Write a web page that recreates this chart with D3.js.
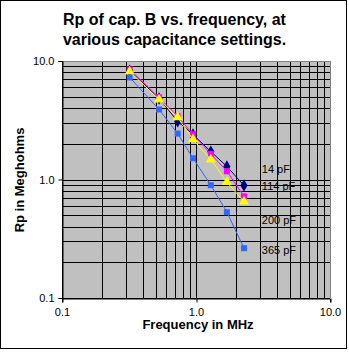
<!DOCTYPE html>
<html><head><meta charset="utf-8">
<script src="https://cdn.jsdelivr.net/npm/d3@7"></script>
<style>html,body{margin:0;padding:0;background:#fff;}svg{display:block;}</style>
</head><body>
<svg id="c" width="349" height="352"></svg>
<script>
const freqs = [0.32, 0.53, 0.73, 0.95, 1.29, 1.70, 2.28];
const rp14  = [8.3, 4.83, 3.09, 2.40, 1.72, 1.29, 0.89];
const rp114 = [8.48, 4.92, 3.42, 2.41, 1.64, 1.175, 0.72];
const rp200 = [8.15, 4.73, 3.34, 2.18, 1.475, 0.95, 0.65];
const rp365 = [7.26, 3.90, 2.44, 1.51, 0.895, 0.53, 0.263];
const seriesNames = ["14 pF", "114 pF", "200 pF", "365 pF"];
const xTickLabels = ["0.1", "1.0", "10.0"];
const yTickLabels = ["0.1", "1.0", "10.0"];
const tickValues = [0.1, 1, 10];
// label anchor positions in data units (frequency, Rp)
const labelFreq = 3.1;
const labelRp = [1.19, 0.856, 0.442, 0.247];

const svg = d3.select("#c");
const L = 62, R = 330, T = 61, B = 298;
const x = d3.scaleLog().domain([0.1, 10]).range([L, R]);
const y = d3.scaleLog().domain([0.1, 10]).range([B, T]);
const font = "'Liberation Sans', Arial, sans-serif";

// outer border
svg.append("rect").attr("x", 0.5).attr("y", 0.5).attr("width", 346).attr("height", 348)
  .attr("fill", "#fff").attr("stroke", "#000");

// plot area
svg.append("rect").attr("x", L).attr("y", T).attr("width", R - L).attr("height", B - T)
  .attr("fill", "#C0C0C0");

// grid values
const gridVals = [];
[0.1, 1].forEach(d => { for (let k = 1; k <= 9; k++) gridVals.push(d * k); });
gridVals.push(10);
const px = v => Math.round(v) + 0.5;

const g = svg.append("g");
gridVals.forEach(v => {
  g.append("line").attr("x1", px(x(v))).attr("x2", px(x(v))).attr("y1", T).attr("y2", B)
    .attr("stroke", "#000").attr("stroke-width", 1);
  g.append("line").attr("y1", px(y(v))).attr("y2", px(y(v))).attr("x1", L).attr("x2", R)
    .attr("stroke", "#000").attr("stroke-width", 1);
});
// plot border top/right gray
svg.append("line").attr("x1", L).attr("x2", R + 0.5).attr("y1", T + 0.5).attr("y2", T + 0.5).attr("stroke", "#808080");
svg.append("line").attr("x1", R + 0.5).attr("x2", R + 0.5).attr("y1", T).attr("y2", B).attr("stroke", "#808080");

// axes
const xAxis = d3.axisBottom(x).tickValues(tickValues).tickSize(4).tickPadding(6)
  .tickFormat((d, i) => xTickLabels[i]);
const yAxis = d3.axisLeft(y).tickValues(tickValues).tickSize(4).tickPadding(4)
  .tickFormat((d, i) => yTickLabels[i]);
const gx = svg.append("g").attr("transform", `translate(0,${px(B)})`).call(xAxis);
const gy = svg.append("g").attr("transform", `translate(${px(L)},0)`).call(yAxis);
[gx, gy].forEach(a => {
  a.selectAll("path").attr("stroke", "#000");
  a.selectAll("line").attr("stroke", "#000");
  a.selectAll("text").attr("font-family", font).attr("font-size", 11).attr("fill", "#000");
});
gx.selectAll(".tick line").attr("transform", "translate(0.5,0)");

// series
const series = [
  {vals: rp14, color: "#000080", marker: "diamond"},
  {vals: rp114, color: "#FF00FF", marker: "square"},
  {vals: rp200, color: "#FFFF00", marker: "triangle"},
  {vals: rp365, color: "#3366FF", marker: "square"}
];
const line = d3.line().x(d => x(d[0])).y(d => y(d[1]));
series.forEach(s => {
  const pts = freqs.map((f, i) => [f, s.vals[i]]);
  svg.append("path").attr("d", line(pts)).attr("fill", "none")
    .attr("stroke", s.color).attr("stroke-width", 1);
  const sym = s.marker === "diamond" ? d3.symbolDiamond :
              s.marker === "triangle" ? d3.symbolTriangle : d3.symbolSquare;
  const size = s.marker === "diamond" ? 44 : s.marker === "triangle" ? 44 : 36;
  svg.append("g").selectAll("path").data(pts).join("path")
    .attr("transform", d => `translate(${x(d[0])},${y(d[1])})`)
    .attr("d", d3.symbol().type(sym).size(size)())
    .attr("fill", s.color);
});

// series labels
seriesNames.forEach((n, i) => {
  svg.append("text").attr("x", x(labelFreq)).attr("y", y(labelRp[i]))
    .attr("dominant-baseline", "middle")
    .attr("font-family", font).attr("font-size", 11).attr("fill", "#000").text(n);
});

// titles
const title = ["Rp of cap. B vs. frequency, at", "various capacitance settings."];
title.forEach((t, i) => {
  svg.append("text").attr("x", 174.5).attr("y", 25 + i * 20).attr("text-anchor", "middle")
    .attr("font-family", font).attr("font-size", 16).attr("font-weight", "bold").text(t);
});
svg.append("text").attr("x", 198).attr("y", 329).attr("text-anchor", "middle")
  .attr("font-family", font).attr("font-size", 13).attr("font-weight", "bold").text("Frequency in MHz");
svg.append("text").attr("transform", "translate(24,180) rotate(-90)").attr("text-anchor", "middle")
  .attr("font-family", font).attr("font-size", 13).attr("font-weight", "bold").text("Rp in Meghohms");
</script>
</body></html>
